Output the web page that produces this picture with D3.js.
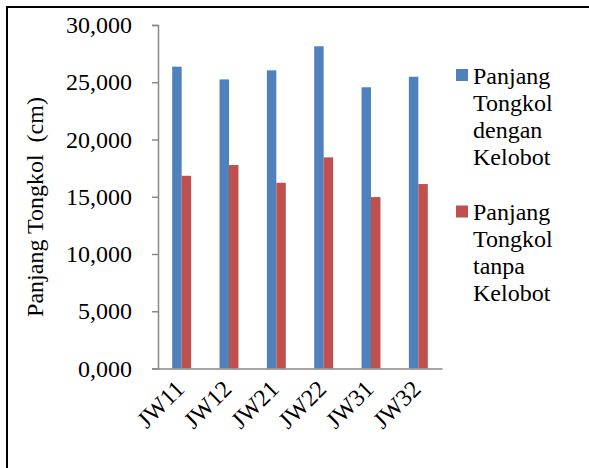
<!DOCTYPE html>
<html>
<head>
<meta charset="utf-8">
<script src="https://cdn.jsdelivr.net/npm/d3@7"></script>
<style>
  html, body { margin: 0; padding: 0; background: #fff; }
  svg { display: block; }
  svg text { font-family: "Liberation Serif", Tinos, "Times New Roman", Times, "DejaVu Serif", serif; fill: #000; }
</style>
</head>
<body>
<svg id="chart" width="589" height="468"></svg>
<script>
// Cob length per variety (cm)
const categories = ["JW11", "JW12", "JW21", "JW22", "JW31", "JW32"];
const withHusk = [26.36, 25.25, 26.04, 28.14, 24.56, 25.48];
const withoutHusk = [16.83, 17.77, 16.22, 18.44, 14.97, 16.11];
const yTicks = [0, 5, 10, 15, 20, 25, 30];
const seriesNames = [
  ["Panjang", "Tongkol", "dengan", "Kelobot"],
  ["Panjang", "Tongkol", "tanpa", "Kelobot"]
];
const seriesColors = ["#4F81BD", "#C0504D"];
const yTitle = "Panjang Tongkol\u00A0\u00A0(cm)";

const serif = "'Liberation Serif', Tinos, 'Times New Roman', Times, 'DejaVu Serif', serif";
const svg = d3.select("#chart");
const fontSize = 24;

// outer frame
svg.append("rect")
  .attr("x", 7).attr("y", 7)
  .attr("width", 700).attr("height", 600)
  .attr("fill", "none").attr("stroke", "#000").attr("stroke-width", 2);

const plot = { left: 158, right: 442, top: 25, bottom: 368.5 };

const x = d3.scaleBand().domain(categories).range([plot.left, plot.right]).padding(0);
const y = d3.scaleLinear().domain([0, 30]).range([plot.bottom, plot.top]);

const idLocale = d3.formatLocale({ decimal: ",", thousands: ".", grouping: [3], currency: ["Rp", ""] });
const fmt = idLocale.format(".3f");

const barW = x.bandwidth() * 0.2;
const series = [withHusk, withoutHusk];

series.forEach((vals, si) => {
  svg.append("g").selectAll("rect")
    .data(categories.map((c, i) => ({ c, v: vals[i] })))
    .join("rect")
    .attr("x", d => x(d.c) + x.bandwidth() / 2 - barW + si * barW)
    .attr("y", d => y(d.v))
    .attr("width", barW)
    .attr("height", d => y(0) - y(d.v))
    .attr("fill", seriesColors[si]);
});

// y axis
const yAxis = svg.append("g")
  .attr("transform", `translate(${plot.left},0)`)
  .call(d3.axisLeft(y).tickValues(yTicks).tickFormat(fmt).tickSize(6).tickPadding(20))
  .attr("font-family", serif);
yAxis.select(".domain").attr("stroke", "#898989").attr("stroke-width", 1.5);
yAxis.selectAll(".tick line").attr("stroke", "#898989").attr("stroke-width", 1.5);
yAxis.selectAll(".tick text")
  .attr("font-size", fontSize)
  .attr("fill", "#000");

// x axis
const xAxis = svg.append("g")
  .attr("transform", `translate(0,${plot.bottom})`)
  .call(d3.axisBottom(x).tickSize(0).tickSizeOuter(0).tickPadding(0))
  .attr("font-family", serif);
xAxis.select(".domain").attr("stroke", "#898989").attr("stroke-width", 1.5);
xAxis.selectAll(".tick text")
  .attr("font-size", fontSize)
  .attr("fill", "#000")
  .attr("text-anchor", "end")
  .attr("dy", null)
  .attr("y", 0)
  .attr("transform", "translate(4,22) rotate(-45)");

// y axis title
svg.append("text")
  .attr("transform", "translate(43,207) rotate(-90)")
  .attr("text-anchor", "middle")
  .attr("font-size", fontSize)
  .text(yTitle);

// legend
const legendTops = [83.5, 220];
seriesNames.forEach((lines, si) => {
  const g = svg.append("g");
  g.append("rect")
    .attr("x", 456).attr("y", legendTops[si] - 14.5)
    .attr("width", 12).attr("height", 12)
    .attr("fill", seriesColors[si]);
  const t = g.append("text").attr("x", 473).attr("y", legendTops[si]).attr("font-size", fontSize);
  lines.forEach((ln, li) => {
    t.append("tspan").attr("x", 473).attr("y", legendTops[si] + li * 27).text(ln);
  });
});
</script>
</body>
</html>
